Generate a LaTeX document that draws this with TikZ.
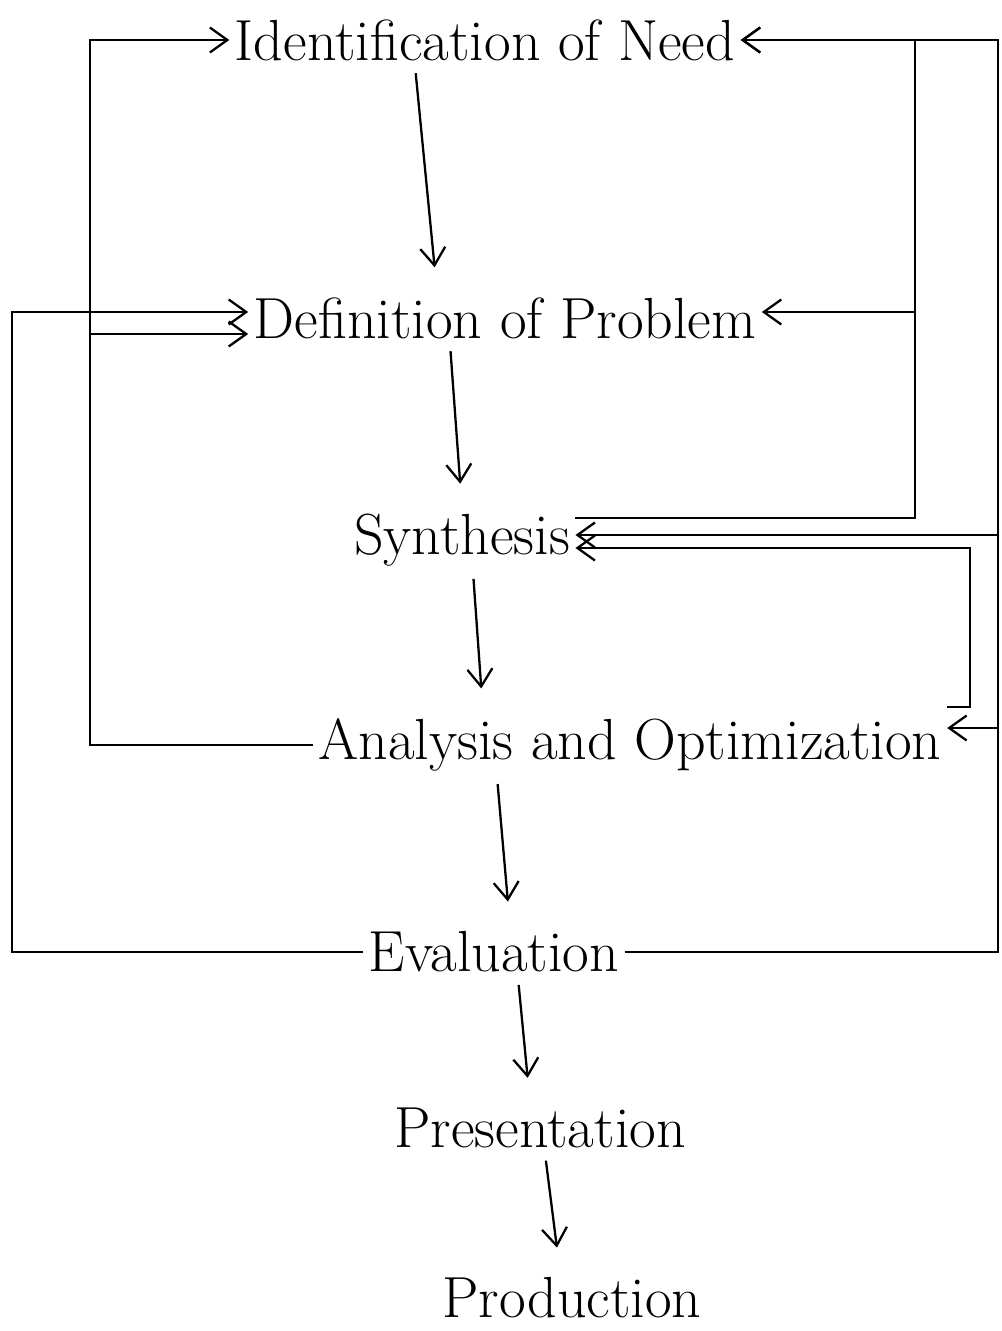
\documentclass[tikz,border=0pt]{standalone}
\usepackage{amsmath}
\usetikzlibrary{arrows.meta}

\tikzset{
  stage/.style={font=\fontsize{33}{38}\selectfont, inner sep=3pt},
  flow/.style={line width=1.3pt, -{Straight Barb[length=3.5mm,width=5mm]}},
  down/.style={flow, shorten <=4pt, shorten >=14pt},
}

\begin{document}
\begin{tikzpicture}[x=0.02cm,y=-0.02cm]
\useasboundingbox (0,0) rectangle (1001,1331);
% stages of the design process
\node[stage] (need) at (485,40) {Identification of Need};
\node[stage] (prob) at (505,318) {Definition of Problem};
\node[stage] (syn) at (462,540) {Synthesis};
\node[stage] (ana) at (630,745) {Analysis and Optimization};
\node[stage] (eva) at (494,952) {Evaluation};
\node[stage] (pres) at (540,1128) {Presentation};
\node[stage] (prod) at (572,1298) {Production};

% forward flow
\draw[down] ([xshift=-1.4cm]need.south) -- ([xshift=-1.36cm]prob.north);
\draw[down] ([xshift=-1.1cm]prob.south) -- (syn.north);
\draw[down] ([xshift=0.22cm]syn.south) -- ([xshift=-2.94cm]ana.north);
\draw[down] ([xshift=-2.66cm]ana.south) -- ([xshift=0.32cm]eva.north);
\draw[down] ([xshift=0.48cm]eva.south) -- ([xshift=-0.2cm]pres.north);
\draw[down] ([xshift=0.1cm]pres.south) -- ([xshift=-0.24cm]prod.north);

% corners of the feedback lines
\coordinate (lbus) at (90,334);
\coordinate (flbus) at (12,312);
\coordinate (rbus) at (915,312);
\coordinate (sout) at (915,518);
\coordinate (aout) at (970,707);
\coordinate (mbus) at (970,548);
\coordinate (frtop) at (998,40);
\coordinate (frsyn) at (998,535);
\coordinate (frana) at (998,728);

% left feedback
\draw[flow] (ana.west) -| (lbus |- need) -- (need.west);
\draw[flow] (lbus) -- (prob.west |- lbus);
\draw[flow] (eva.west) -| (flbus) -- (prob.west |- flbus);

% right feedback
\draw[flow] (syn.east |- sout) -- (sout) -- (sout |- need) -- (need.east);
\draw[flow] (rbus) -- (prob.east |- rbus);
\draw[flow] (ana.east |- aout) -- (aout) -- (mbus) -- (syn.east |- mbus);
\draw[flow] (eva.east) -| (frtop) -- (need.east);
\draw[flow] (frsyn) -- (syn.east |- frsyn);
\draw[flow] (frana) -- (ana.east |- frana);
\end{tikzpicture}
\end{document}
